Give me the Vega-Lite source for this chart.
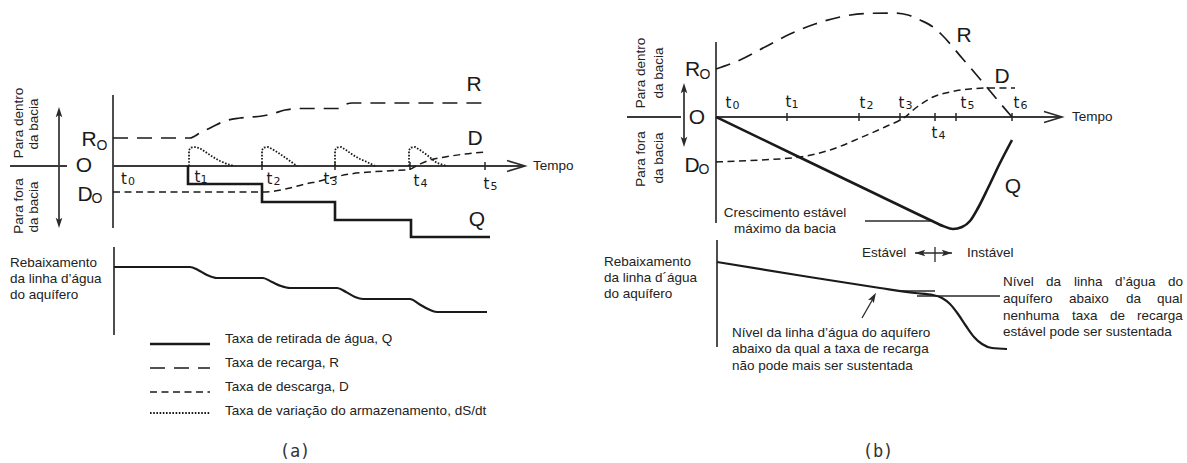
{
  "$schema": "https://vega.github.io/schema/vega-lite/v6.json",
  "width": 1187,
  "height": 463,
  "autosize": {"type": "fit", "contains": "padding"},
  "padding": 0,
  "background": "white",
  "config": {"view": {"stroke": null}},
  "datasets": {
    "segs": [
      {"k": "axis", "x": 113, "y": 95, "x2": 113, "y2": 228},
      {"k": "axis", "x": 113, "y": 166, "x2": 524, "y2": 166},
      {"k": "axis", "x": 10, "y": 166, "x2": 67, "y2": 166},
      {"k": "axis", "x": 59, "y": 110, "x2": 59, "y2": 225},
      {"k": "axis", "x": 114, "y": 247, "x2": 114, "y2": 335},
      {"k": "axis", "x": 716, "y": 42, "x2": 716, "y2": 223},
      {"k": "axis", "x": 716, "y": 117, "x2": 1061, "y2": 117},
      {"k": "axis", "x": 627, "y": 117, "x2": 681, "y2": 117},
      {"k": "axis", "x": 684, "y": 86, "x2": 684, "y2": 144},
      {"k": "axis", "x": 717, "y": 240, "x2": 717, "y2": 347},
      {"k": "thin", "x": 865, "y": 221, "x2": 932, "y2": 221},
      {"k": "thin", "x": 917, "y": 296, "x2": 1000, "y2": 296},
      {"k": "thin", "x": 900, "y": 291, "x2": 935, "y2": 291},
      {"k": "thin", "x": 862, "y": 318, "x2": 874, "y2": 297},
      {"k": "thin", "x": 915, "y": 253, "x2": 952, "y2": 253},
      {"k": "thin", "x": 935, "y": 247, "x2": 935, "y2": 262},
      {"k": "tick", "x": 262, "y": 162, "x2": 262, "y2": 170},
      {"k": "tick", "x": 335, "y": 162, "x2": 335, "y2": 170},
      {"k": "tick", "x": 410, "y": 162, "x2": 410, "y2": 170},
      {"k": "tick", "x": 485, "y": 162, "x2": 485, "y2": 170},
      {"k": "tick", "x": 787, "y": 113, "x2": 787, "y2": 121},
      {"k": "tick", "x": 859, "y": 113, "x2": 859, "y2": 121},
      {"k": "tick", "x": 900, "y": 113, "x2": 900, "y2": 121},
      {"k": "tick", "x": 935, "y": 113, "x2": 935, "y2": 121},
      {"k": "tick", "x": 956, "y": 113, "x2": 956, "y2": 121},
      {"k": "tick", "x": 1012, "y": 113, "x2": 1012, "y2": 121}
    ],
    "curves": [
      {"s": "aQ", "k": "Q", "x": 188, "y": 166},
      {"s": "aQ", "k": "Q", "x": 188, "y": 184},
      {"s": "aQ", "k": "Q", "x": 262, "y": 184},
      {"s": "aQ", "k": "Q", "x": 262, "y": 202},
      {"s": "aQ", "k": "Q", "x": 335, "y": 202},
      {"s": "aQ", "k": "Q", "x": 335, "y": 220},
      {"s": "aQ", "k": "Q", "x": 411, "y": 220},
      {"s": "aQ", "k": "Q", "x": 411, "y": 237},
      {"s": "aQ", "k": "Q", "x": 490, "y": 237},
      {"s": "legQ", "k": "Q", "x": 150, "y": 344},
      {"s": "legQ", "k": "Q", "x": 210, "y": 344},
      {"s": "legR", "k": "R", "x": 150, "y": 368},
      {"s": "legR", "k": "R", "x": 210, "y": 368},
      {"s": "legD", "k": "D", "x": 150, "y": 392},
      {"s": "legD", "k": "D", "x": 210, "y": 392},
      {"s": "legS", "k": "S", "x": 150, "y": 413},
      {"s": "legS", "k": "S", "x": 210, "y": 413},
      {"s": "aR", "k": "R", "x": 113, "y": 138},
      {"s": "aR", "k": "R", "x": 190, "y": 138},
      {"s": "aR", "k": "R", "x": 200, "y": 133},
      {"s": "aR", "k": "R", "x": 212, "y": 127},
      {"s": "aR", "k": "R", "x": 225, "y": 121},
      {"s": "aR", "k": "R", "x": 240, "y": 118},
      {"s": "aR", "k": "R", "x": 262, "y": 116},
      {"s": "aR", "k": "R", "x": 272, "y": 114},
      {"s": "aR", "k": "R", "x": 285, "y": 110},
      {"s": "aR", "k": "R", "x": 300, "y": 108.5},
      {"s": "aR", "k": "R", "x": 338, "y": 108.5},
      {"s": "aR", "k": "R", "x": 344, "y": 105},
      {"s": "aR", "k": "R", "x": 352, "y": 103},
      {"s": "aR", "k": "R", "x": 490, "y": 103},
      {"s": "aD", "k": "D", "x": 113, "y": 192},
      {"s": "aD", "k": "D", "x": 262, "y": 192},
      {"s": "aD", "k": "D", "x": 275, "y": 191},
      {"s": "aD", "k": "D", "x": 290, "y": 188},
      {"s": "aD", "k": "D", "x": 305, "y": 184},
      {"s": "aD", "k": "D", "x": 320, "y": 181},
      {"s": "aD", "k": "D", "x": 335, "y": 177},
      {"s": "aD", "k": "D", "x": 350, "y": 174},
      {"s": "aD", "k": "D", "x": 370, "y": 172},
      {"s": "aD", "k": "D", "x": 395, "y": 170.5},
      {"s": "aD", "k": "D", "x": 407, "y": 170},
      {"s": "aD", "k": "D", "x": 418, "y": 165},
      {"s": "aD", "k": "D", "x": 430, "y": 160},
      {"s": "aD", "k": "D", "x": 445, "y": 157},
      {"s": "aD", "k": "D", "x": 465, "y": 154},
      {"s": "aD", "k": "D", "x": 485, "y": 152},
      {"s": "aS1", "k": "S", "x": 189, "y": 166},
      {"s": "aS1", "k": "S", "x": 189, "y": 150},
      {"s": "aS1", "k": "S", "x": 191, "y": 147.5},
      {"s": "aS1", "k": "S", "x": 196, "y": 147},
      {"s": "aS1", "k": "S", "x": 201, "y": 149},
      {"s": "aS1", "k": "S", "x": 207, "y": 153},
      {"s": "aS1", "k": "S", "x": 213, "y": 157},
      {"s": "aS1", "k": "S", "x": 220, "y": 161},
      {"s": "aS1", "k": "S", "x": 227, "y": 164},
      {"s": "aS1", "k": "S", "x": 234, "y": 166},
      {"s": "aS2", "k": "S", "x": 262, "y": 166},
      {"s": "aS2", "k": "S", "x": 262, "y": 150},
      {"s": "aS2", "k": "S", "x": 264, "y": 147.5},
      {"s": "aS2", "k": "S", "x": 268, "y": 147},
      {"s": "aS2", "k": "S", "x": 272, "y": 149},
      {"s": "aS2", "k": "S", "x": 277, "y": 152},
      {"s": "aS2", "k": "S", "x": 283, "y": 156},
      {"s": "aS2", "k": "S", "x": 290, "y": 161},
      {"s": "aS2", "k": "S", "x": 297, "y": 166},
      {"s": "aS3", "k": "S", "x": 335, "y": 166},
      {"s": "aS3", "k": "S", "x": 335, "y": 150},
      {"s": "aS3", "k": "S", "x": 337, "y": 147.5},
      {"s": "aS3", "k": "S", "x": 341, "y": 147},
      {"s": "aS3", "k": "S", "x": 346, "y": 150},
      {"s": "aS3", "k": "S", "x": 353, "y": 155},
      {"s": "aS3", "k": "S", "x": 360, "y": 159},
      {"s": "aS3", "k": "S", "x": 367, "y": 162},
      {"s": "aS3", "k": "S", "x": 375, "y": 166},
      {"s": "aS4", "k": "S", "x": 409, "y": 166},
      {"s": "aS4", "k": "S", "x": 409, "y": 150},
      {"s": "aS4", "k": "S", "x": 411, "y": 147.5},
      {"s": "aS4", "k": "S", "x": 415, "y": 147},
      {"s": "aS4", "k": "S", "x": 420, "y": 150},
      {"s": "aS4", "k": "S", "x": 427, "y": 155},
      {"s": "aS4", "k": "S", "x": 432, "y": 159},
      {"s": "aS4", "k": "S", "x": 437, "y": 163},
      {"s": "aS4", "k": "S", "x": 447, "y": 166},
      {"s": "aW", "k": "W", "x": 114, "y": 267},
      {"s": "aW", "k": "W", "x": 190, "y": 267},
      {"s": "aW", "k": "W", "x": 198, "y": 270},
      {"s": "aW", "k": "W", "x": 207, "y": 275},
      {"s": "aW", "k": "W", "x": 217, "y": 278},
      {"s": "aW", "k": "W", "x": 263, "y": 278},
      {"s": "aW", "k": "W", "x": 272, "y": 282},
      {"s": "aW", "k": "W", "x": 281, "y": 286},
      {"s": "aW", "k": "W", "x": 290, "y": 288},
      {"s": "aW", "k": "W", "x": 337, "y": 288},
      {"s": "aW", "k": "W", "x": 346, "y": 292},
      {"s": "aW", "k": "W", "x": 355, "y": 297},
      {"s": "aW", "k": "W", "x": 363, "y": 299},
      {"s": "aW", "k": "W", "x": 410, "y": 299},
      {"s": "aW", "k": "W", "x": 419, "y": 304},
      {"s": "aW", "k": "W", "x": 428, "y": 309},
      {"s": "aW", "k": "W", "x": 437, "y": 312},
      {"s": "aW", "k": "W", "x": 487, "y": 312},
      {"s": "bR", "k": "R", "x": 716, "y": 69},
      {"s": "bR", "k": "R", "x": 740, "y": 60},
      {"s": "bR", "k": "R", "x": 765, "y": 47},
      {"s": "bR", "k": "R", "x": 790, "y": 34},
      {"s": "bR", "k": "R", "x": 815, "y": 24},
      {"s": "bR", "k": "R", "x": 840, "y": 17},
      {"s": "bR", "k": "R", "x": 865, "y": 13.5},
      {"s": "bR", "k": "R", "x": 895, "y": 13},
      {"s": "bR", "k": "R", "x": 908, "y": 15},
      {"s": "bR", "k": "R", "x": 920, "y": 20},
      {"s": "bR", "k": "R", "x": 933, "y": 27},
      {"s": "bR", "k": "R", "x": 942, "y": 35},
      {"s": "bR", "k": "R", "x": 962, "y": 58},
      {"s": "bR", "k": "R", "x": 980, "y": 79},
      {"s": "bR", "k": "R", "x": 990, "y": 91},
      {"s": "bR", "k": "R", "x": 1000, "y": 103},
      {"s": "bR", "k": "R", "x": 1012, "y": 117},
      {"s": "bD", "k": "D", "x": 716, "y": 162},
      {"s": "bD", "k": "D", "x": 760, "y": 160},
      {"s": "bD", "k": "D", "x": 800, "y": 157},
      {"s": "bD", "k": "D", "x": 830, "y": 150},
      {"s": "bD", "k": "D", "x": 860, "y": 138},
      {"s": "bD", "k": "D", "x": 885, "y": 127},
      {"s": "bD", "k": "D", "x": 905, "y": 117},
      {"s": "bD", "k": "D", "x": 917, "y": 107},
      {"s": "bD", "k": "D", "x": 933, "y": 97},
      {"s": "bD", "k": "D", "x": 950, "y": 92},
      {"s": "bD", "k": "D", "x": 970, "y": 89},
      {"s": "bD", "k": "D", "x": 990, "y": 88},
      {"s": "bD", "k": "D", "x": 1015, "y": 88},
      {"s": "bQ", "k": "Q", "x": 716, "y": 117},
      {"s": "bQ", "k": "Q", "x": 800, "y": 157.5},
      {"s": "bQ", "k": "Q", "x": 880, "y": 196},
      {"s": "bQ", "k": "Q", "x": 930, "y": 220},
      {"s": "bQ", "k": "Q", "x": 943, "y": 226},
      {"s": "bQ", "k": "Q", "x": 953, "y": 229},
      {"s": "bQ", "k": "Q", "x": 962, "y": 227},
      {"s": "bQ", "k": "Q", "x": 970, "y": 221},
      {"s": "bQ", "k": "Q", "x": 978, "y": 208},
      {"s": "bQ", "k": "Q", "x": 988, "y": 188},
      {"s": "bQ", "k": "Q", "x": 1000, "y": 163},
      {"s": "bQ", "k": "Q", "x": 1012, "y": 140},
      {"s": "bW", "k": "W", "x": 717, "y": 262},
      {"s": "bW", "k": "W", "x": 800, "y": 275.5},
      {"s": "bW", "k": "W", "x": 880, "y": 288},
      {"s": "bW", "k": "W", "x": 915, "y": 293},
      {"s": "bW", "k": "W", "x": 933, "y": 295},
      {"s": "bW", "k": "W", "x": 942, "y": 298},
      {"s": "bW", "k": "W", "x": 950, "y": 304},
      {"s": "bW", "k": "W", "x": 958, "y": 314},
      {"s": "bW", "k": "W", "x": 966, "y": 326},
      {"s": "bW", "k": "W", "x": 974, "y": 337},
      {"s": "bW", "k": "W", "x": 982, "y": 344},
      {"s": "bW", "k": "W", "x": 992, "y": 348},
      {"s": "bW", "k": "W", "x": 1007, "y": 349}
    ],
    "arrows": [
      {"k": "chev", "x": 516, "y": 166, "dir": 90},
      {"k": "chev", "x": 1053, "y": 117, "dir": 90},
      {"k": "barb", "x": 59, "y": 113, "dir": 0},
      {"k": "barb", "x": 59, "y": 222, "dir": 180},
      {"k": "barb", "x": 684, "y": 89, "dir": 0},
      {"k": "barb", "x": 684, "y": 141, "dir": 180},
      {"k": "barb", "x": 921, "y": 253, "dir": 270},
      {"k": "barb", "x": 946, "y": 253, "dir": 90},
      {"k": "barb", "x": 873, "y": 298, "dir": 30}
    ],
    "labels": [
      {"k": "big", "t": "R", "x": 89, "y": 140},
      {"k": "big", "t": "O", "x": 84, "y": 166},
      {"k": "big", "t": "D", "x": 85, "y": 194.5},
      {"k": "sub", "t": "O", "x": 102, "y": 146},
      {"k": "sub", "t": "O", "x": 97, "y": 199},
      {"k": "big", "t": "R", "x": 692.5, "y": 69.5},
      {"k": "big", "t": "O", "x": 697, "y": 118},
      {"k": "big", "t": "D", "x": 692, "y": 166},
      {"k": "sub", "t": "O", "x": 705, "y": 75},
      {"k": "sub", "t": "O", "x": 704, "y": 170},
      {"k": "big", "t": "R", "x": 474, "y": 84.5},
      {"k": "big", "t": "D", "x": 475, "y": 138.5},
      {"k": "big", "t": "Q", "x": 477, "y": 220},
      {"k": "big", "t": "R", "x": 964, "y": 36},
      {"k": "big", "t": "D", "x": 1002, "y": 77},
      {"k": "big", "t": "Q", "x": 1013, "y": 187},
      {"k": "tt", "t": "t", "x": 124, "y": 179},
      {"k": "td", "t": "0", "x": 131.5, "y": 182},
      {"k": "tt", "t": "t", "x": 197.5, "y": 177},
      {"k": "td", "t": "1", "x": 204, "y": 180},
      {"k": "tt", "t": "t", "x": 269.5, "y": 179},
      {"k": "td", "t": "2", "x": 277, "y": 182},
      {"k": "tt", "t": "t", "x": 326.5, "y": 179},
      {"k": "td", "t": "3", "x": 334, "y": 182},
      {"k": "tt", "t": "t", "x": 416.5, "y": 181},
      {"k": "td", "t": "4", "x": 424, "y": 184},
      {"k": "tt", "t": "t", "x": 486.5, "y": 184},
      {"k": "td", "t": "5", "x": 494, "y": 187},
      {"k": "tt", "t": "t", "x": 728.5, "y": 103},
      {"k": "td", "t": "0", "x": 736, "y": 106},
      {"k": "tt", "t": "t", "x": 788.5, "y": 102},
      {"k": "td", "t": "1", "x": 795, "y": 105},
      {"k": "tt", "t": "t", "x": 862.5, "y": 103},
      {"k": "td", "t": "2", "x": 870, "y": 106},
      {"k": "tt", "t": "t", "x": 901.5, "y": 103},
      {"k": "td", "t": "3", "x": 909, "y": 106},
      {"k": "tt", "t": "t", "x": 934.5, "y": 133},
      {"k": "td", "t": "4", "x": 942, "y": 136},
      {"k": "tt", "t": "t", "x": 963.5, "y": 103},
      {"k": "td", "t": "5", "x": 971, "y": 106},
      {"k": "tt", "t": "t", "x": 1016.5, "y": 103},
      {"k": "td", "t": "6", "x": 1024, "y": 106},
      {"k": "rot", "t": "Para dentro", "x": 19, "y": 123},
      {"k": "rot", "t": "da bacia", "x": 34, "y": 124},
      {"k": "rot", "t": "Para fora", "x": 19, "y": 206},
      {"k": "rot", "t": "da bacia", "x": 34, "y": 207},
      {"k": "rot", "t": "Para dentro", "x": 641, "y": 73},
      {"k": "rot", "t": "da bacia", "x": 659, "y": 73},
      {"k": "rot", "t": "Para fora", "x": 641, "y": 159},
      {"k": "rot", "t": "da bacia", "x": 659, "y": 158},
      {"k": "body", "t": "Tempo", "x": 533, "y": 166},
      {"k": "body", "t": "Tempo", "x": 1072, "y": 117},
      {"k": "body", "t": "Rebaixamento", "x": 10, "y": 263},
      {"k": "body", "t": "da linha d’água", "x": 10, "y": 279},
      {"k": "body", "t": "do aquífero", "x": 10, "y": 295},
      {"k": "body", "t": "Rebaixamento", "x": 604, "y": 262},
      {"k": "body", "t": "da linha d´água", "x": 604, "y": 278},
      {"k": "body", "t": "do aquífero", "x": 604, "y": 294},
      {"k": "body", "t": "Taxa de retirada de água, Q", "x": 225, "y": 339},
      {"k": "body", "t": "Taxa de recarga, R", "x": 225, "y": 363},
      {"k": "body", "t": "Taxa de descarga, D", "x": 225, "y": 387},
      {"k": "body", "t": "Taxa de variação do armazenamento, dS/dt", "x": 225, "y": 411},
      {"k": "body", "t": "Estável", "x": 862, "y": 253},
      {"k": "body", "t": "Instável", "x": 967, "y": 253},
      {"k": "body", "t": "Nível da linha d’água do aquífero", "x": 732, "y": 333},
      {"k": "body", "t": "abaixo da qual a taxa de recarga", "x": 732, "y": 349},
      {"k": "body", "t": "não pode mais ser sustentada", "x": 732, "y": 366},
      {"k": "body", "t": "Nível", "x": 1003, "y": 282},
      {"k": "body", "t": "da", "x": 1046, "y": 282},
      {"k": "body", "t": "linha", "x": 1074, "y": 282},
      {"k": "body", "t": "d’água", "x": 1115, "y": 282},
      {"k": "body", "t": "do", "x": 1168, "y": 282},
      {"k": "body", "t": "aquífero", "x": 1003, "y": 299},
      {"k": "body", "t": "abaixo", "x": 1069, "y": 299},
      {"k": "body", "t": "da", "x": 1126, "y": 299},
      {"k": "body", "t": "qual", "x": 1157, "y": 299},
      {"k": "body", "t": "nenhuma", "x": 1003, "y": 316},
      {"k": "body", "t": "taxa", "x": 1072, "y": 316},
      {"k": "body", "t": "de", "x": 1110, "y": 316},
      {"k": "body", "t": "recarga", "x": 1137, "y": 316},
      {"k": "body", "t": "estável pode ser sustentada", "x": 1003, "y": 332},
      {"k": "bodyc", "t": "Crescimento estável", "x": 785, "y": 213},
      {"k": "bodyc", "t": "máximo da bacia", "x": 785, "y": 229},
      {"k": "cap", "t": "(a)", "x": 295, "y": 452},
      {"k": "cap", "t": "(b)", "x": 878, "y": 452}
    ]
  },
  "encoding": {
    "x": {"field": "x", "type": "quantitative", "scale": {"domain": [0, 1187], "nice": false, "zero": false}, "axis": null},
    "y": {"field": "y", "type": "quantitative", "scale": {"domain": [0, 463], "nice": false, "zero": false, "reverse": true}, "axis": null}
  },
  "layer": [
    {"data": {"name": "segs"}, "transform": [{"filter": "datum.k === 'axis'"}], "mark": {"type": "rule", "color": "#3a3a3a", "strokeWidth": 1.8}, "encoding": {"x2": {"field": "x2"}, "y2": {"field": "y2"}}},
    {"data": {"name": "segs"}, "transform": [{"filter": "datum.k === 'thin'"}], "mark": {"type": "rule", "color": "#2a2a2a", "strokeWidth": 1.3}, "encoding": {"x2": {"field": "x2"}, "y2": {"field": "y2"}}},
    {"data": {"name": "segs"}, "transform": [{"filter": "datum.k === 'tick'"}], "mark": {"type": "rule", "color": "#2a2a2a", "strokeWidth": 1.5}, "encoding": {"x2": {"field": "x2"}, "y2": {"field": "y2"}}},
    {"data": {"name": "curves"}, "transform": [{"filter": "datum.k === 'Q' && datum.s !== 'bQ'"}], "mark": {"type": "line", "color": "#1a1a1a", "strokeWidth": 2.6}, "encoding": {"detail": {"field": "s"}, "order": {"value": null}}},
    {"data": {"name": "curves"}, "transform": [{"filter": "datum.s === 'bQ'"}], "mark": {"type": "line", "color": "#1a1a1a", "strokeWidth": 2.6, "interpolate": "monotone"}, "encoding": {"detail": {"field": "s"}, "order": {"value": null}}},
    {"data": {"name": "curves"}, "transform": [{"filter": "datum.k === 'W'"}], "mark": {"type": "line", "color": "#1a1a1a", "strokeWidth": 2.2, "interpolate": "monotone"}, "encoding": {"detail": {"field": "s"}, "order": {"value": null}}},
    {"data": {"name": "curves"}, "transform": [{"filter": "datum.k === 'R'"}], "mark": {"type": "line", "color": "#1a1a1a", "strokeWidth": 1.7, "strokeDash": [15, 9], "interpolate": "monotone"}, "encoding": {"detail": {"field": "s"}, "order": {"value": null}}},
    {"data": {"name": "curves"}, "transform": [{"filter": "datum.k === 'D'"}], "mark": {"type": "line", "color": "#1a1a1a", "strokeWidth": 1.5, "strokeDash": [7, 4.5], "interpolate": "monotone"}, "encoding": {"detail": {"field": "s"}, "order": {"value": null}}},
    {"data": {"name": "curves"}, "transform": [{"filter": "datum.k === 'S'"}], "mark": {"type": "line", "color": "#1a1a1a", "strokeWidth": 1.8, "strokeDash": [1.6, 1.6]}, "encoding": {"detail": {"field": "s"}, "order": {"value": null}}},
    {"data": {"name": "arrows"}, "transform": [{"filter": "datum.k === 'chev'"}], "mark": {"type": "point", "shape": "M-0.6,1L0,-1L0.6,1", "filled": false, "size": 324, "stroke": "#2a2a2a", "strokeWidth": 1.6, "opacity": 1}, "encoding": {"angle": {"field": "dir", "type": "quantitative", "scale": null}}},
    {"data": {"name": "arrows"}, "transform": [{"filter": "datum.k === 'barb'"}], "mark": {"type": "point", "shape": "M0,-1L0.55,0.7L0,0.35L-0.55,0.7Z", "filled": true, "size": 144, "color": "#2a2a2a", "opacity": 1}, "encoding": {"angle": {"field": "dir", "type": "quantitative", "scale": null}}},
    {"data": {"name": "labels"}, "transform": [{"filter": "datum.k === 'big'"}], "mark": {"type": "text", "align": "center", "baseline": "middle", "font": "Liberation Sans", "fontSize": 21, "color": "#1a1a1a"}, "encoding": {"text": {"field": "t"}}},
    {"data": {"name": "labels"}, "transform": [{"filter": "datum.k === 'sub'"}], "mark": {"type": "text", "align": "center", "baseline": "middle", "font": "Liberation Sans", "fontSize": 14, "color": "#1a1a1a"}, "encoding": {"text": {"field": "t"}}},
    {"data": {"name": "labels"}, "transform": [{"filter": "datum.k === 'tt'"}], "mark": {"type": "text", "align": "center", "baseline": "middle", "font": "DejaVu Sans", "fontSize": 15, "color": "#1a1a1a"}, "encoding": {"text": {"field": "t"}}},
    {"data": {"name": "labels"}, "transform": [{"filter": "datum.k === 'td'"}], "mark": {"type": "text", "align": "center", "baseline": "middle", "font": "DejaVu Sans", "fontSize": 11, "color": "#1a1a1a"}, "encoding": {"text": {"field": "t"}}},
    {"data": {"name": "labels"}, "transform": [{"filter": "datum.k === 'rot'"}], "mark": {"type": "text", "align": "center", "baseline": "middle", "angle": 270, "font": "Liberation Sans", "fontSize": 13.5, "color": "#222"}, "encoding": {"text": {"field": "t"}}},
    {"data": {"name": "labels"}, "transform": [{"filter": "datum.k === 'body'"}], "mark": {"type": "text", "align": "left", "baseline": "middle", "font": "Liberation Sans", "fontSize": 13.5, "color": "#222"}, "encoding": {"text": {"field": "t"}}},
    {"data": {"name": "labels"}, "transform": [{"filter": "datum.k === 'bodyc'"}], "mark": {"type": "text", "align": "center", "baseline": "middle", "font": "Liberation Sans", "fontSize": 13.5, "color": "#222"}, "encoding": {"text": {"field": "t"}}},
    {"data": {"name": "labels"}, "transform": [{"filter": "datum.k === 'cap'"}], "mark": {"type": "text", "align": "center", "baseline": "middle", "font": "DejaVu Sans Mono", "fontSize": 17, "color": "#333"}, "encoding": {"text": {"field": "t"}}}
  ]
}
